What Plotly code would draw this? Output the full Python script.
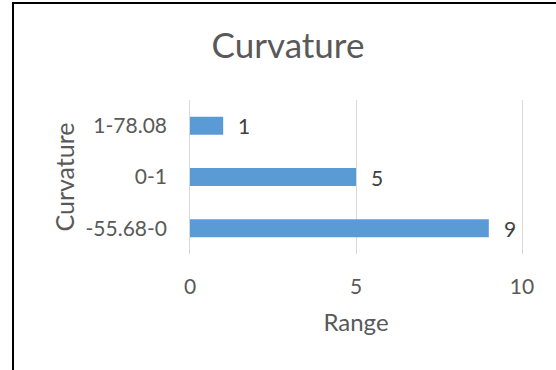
import plotly.graph_objects as go

# Curvature ranges (bottom to top) and how many fall in each
categories = ["-55.68-0", "0-1", "1-78.08"]
counts = [9, 5, 1]
x_ticks = [0, 5, 10]

W, H = 556, 370
L, R, T, B = 188, 32, 100, 116
pw, ph = W - L - R, H - T - B

grey = "#595959"
font = "Lato"

fig = go.Figure(
    go.Bar(
        x=counts,
        y=categories,
        orientation="h",
        marker=dict(color="#5b9bd5", line=dict(width=0)),
        hoverinfo="skip",
    )
)

# value labels just past the end of each bar
for c, v in zip(categories, counts):
    fig.add_annotation(
        x=v, y=c, text=str(v), showarrow=False, xanchor="left", xshift=13,
        font=dict(family=font, size=21, color="#404040"),
    )

# outer frame (left and top edges)
def px_x(p):
    return (p - L) / pw

def px_y(p):
    return (H - B - p) / ph

frame = dict(color="black", width=2)
fig.add_shape(type="line", xref="paper", yref="paper",
              x0=px_x(13), x1=px_x(13), y0=px_y(2), y1=px_y(372), line=frame)
fig.add_shape(type="line", xref="paper", yref="paper",
              x0=px_x(12), x1=px_x(560), y0=px_y(3), y1=px_y(3), line=frame)

fig.update_layout(
    width=W, height=H,
    margin=dict(l=L, r=R, t=T, b=B),
    paper_bgcolor="white", plot_bgcolor="white",
    bargap=0.65,
    showlegend=False,
    font=dict(family=font, color=grey),
    title=dict(text="Curvature", x=288 / W, xanchor="center",
               y=1 - 46 / H, yanchor="middle",
               font=dict(family=font, size=35, color=grey)),
    xaxis=dict(
        range=[-0.06, 10.06], tickvals=x_ticks, showgrid=True,
        gridcolor="#d9d9d9", gridwidth=1, zeroline=False, showline=False,
        ticks="", ticklabelstandoff=18,
        tickfont=dict(family=font, size=21, color=grey),
        title=dict(text="Range", font=dict(family=font, size=24, color=grey),
                   standoff=17),
    ),
    yaxis=dict(
        showgrid=False, zeroline=False, showline=False, ticks="",
        ticklabelstandoff=20,
        tickfont=dict(family=font, size=21, color=grey),
        title=dict(text="Curvature", font=dict(family=font, size=25, color=grey),
                   standoff=3),
    ),
)

fig.write_html("out.html")
